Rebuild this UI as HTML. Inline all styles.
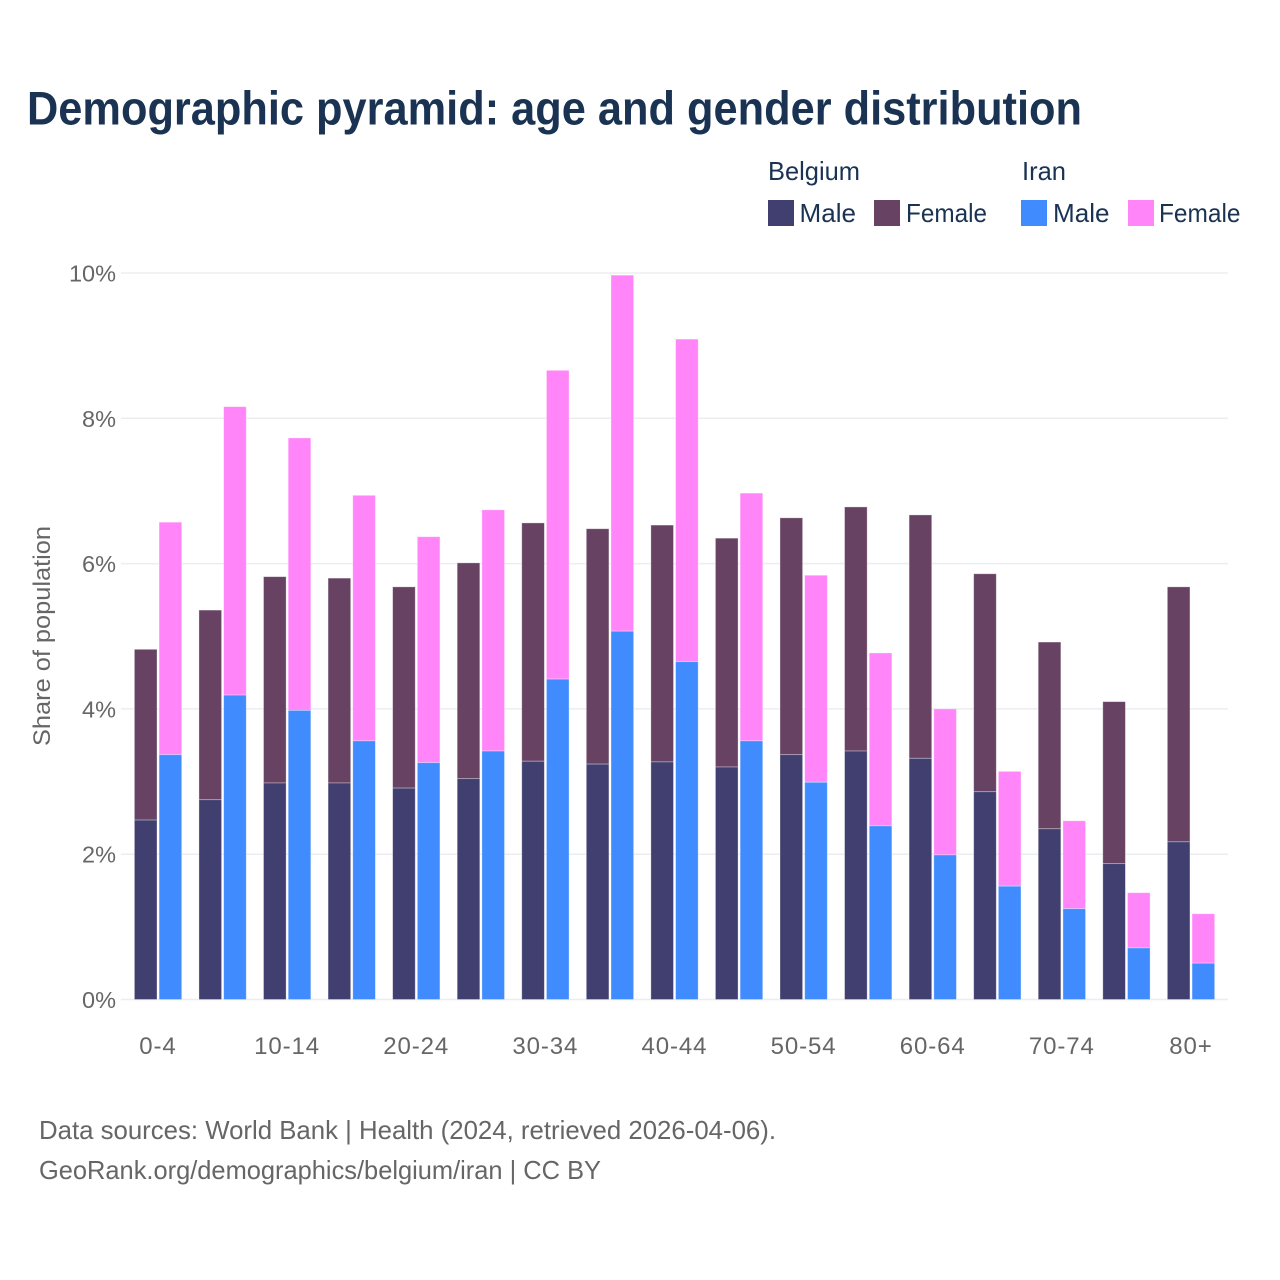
<!DOCTYPE html>
<html lang="en">
<head>
<meta charset="utf-8">
<title>Demographic pyramid: age and gender distribution</title>
<style>
html,body{margin:0;padding:0;background:#fff;width:1280px;height:1280px;overflow:hidden}
svg{display:block}
text{font-family:"Liberation Sans",Arial,sans-serif}
</style>
</head>
<body>
<svg id="chart" xmlns="http://www.w3.org/2000/svg" width="1280" height="1280" viewBox="0 0 1280 1280">
  <rect x="0" y="0" width="1280" height="1280" fill="#ffffff"/>
  <text x="27" y="124.5" font-size="47" font-weight="700" fill="#1a3353" textLength="1055" lengthAdjust="spacingAndGlyphs">Demographic pyramid: age and gender distribution</text>

  <g font-size="26" fill="#1a3353">
    <text x="768" y="180" textLength="92" lengthAdjust="spacingAndGlyphs">Belgium</text>
    <text x="1022" y="180" textLength="44" lengthAdjust="spacingAndGlyphs">Iran</text>
    <rect x="768" y="200" width="26" height="26" fill="#413f70"/>
    <text x="799.5" y="222" textLength="56.5" lengthAdjust="spacingAndGlyphs">Male</text>
    <rect x="874" y="200" width="26" height="26" fill="#674263"/>
    <text x="906" y="222" textLength="81" lengthAdjust="spacingAndGlyphs">Female</text>
    <rect x="1021" y="200" width="26" height="26" fill="#408cff"/>
    <text x="1053" y="222" textLength="56.5" lengthAdjust="spacingAndGlyphs">Male</text>
    <rect x="1128" y="200" width="26" height="26" fill="#ff85f9"/>
    <text x="1159" y="222" textLength="81.5" lengthAdjust="spacingAndGlyphs">Female</text>
  </g>

  <g id="grid"></g>
  <g id="yticks"></g>
  <g id="bars"></g>
  <g id="xticks"></g>

  <text transform="translate(50,746) rotate(-90)" font-size="24" fill="#666666" textLength="220" lengthAdjust="spacingAndGlyphs">Share of population</text>

  <text x="39" y="1139" font-size="26" fill="#666666" textLength="737" lengthAdjust="spacingAndGlyphs">Data sources: World Bank | Health (2024, retrieved 2026-04-06).</text>
  <text x="39" y="1179" font-size="26" fill="#666666" textLength="562" lengthAdjust="spacingAndGlyphs">GeoRank.org/demographics/belgium/iran | CC BY</text>
</svg>
<script>
const ageGroups = ["0-4","5-9","10-14","15-19","20-24","25-29","30-34","35-39","40-44","45-49","50-54","55-59","60-64","65-69","70-74","75-79","80+"];
const belgiumMale = [2.47,2.75,2.98,2.98,2.91,3.04,3.28,3.24,3.27,3.20,3.37,3.42,3.32,2.86,2.35,1.87,2.17];
const belgiumFemale = [2.35,2.61,2.84,2.82,2.77,2.97,3.28,3.24,3.26,3.15,3.26,3.36,3.35,3.00,2.57,2.23,3.51];
const iranMale = [3.37,4.19,3.98,3.56,3.26,3.42,4.41,5.07,4.65,3.56,2.99,2.39,1.99,1.56,1.25,0.71,0.50];
const iranFemale = [3.20,3.97,3.75,3.38,3.11,3.32,4.25,4.90,4.44,3.41,2.85,2.38,2.01,1.58,1.21,0.76,0.68];
const yTickValues = [0,2,4,6,8,10];
const xTickLabels = ["0-4","10-14","20-24","30-34","40-44","50-54","60-64","70-74","80+"];

const NS = "http://www.w3.org/2000/svg";
const plotLeft = 121, plotRight = 1228, plotBottom = 999.5, plotTop = 273;
const yScale = v => plotBottom - (v / 10) * (plotBottom - plotTop);
const xCenter = i => 158 + i * 64.56;
const barWidth = 22.6;

const grid = document.getElementById("grid");
const yticks = document.getElementById("yticks");
yTickValues.forEach(v => {
  const line = document.createElementNS(NS, "line");
  
  
  line.setAttribute("x1", plotLeft);
  line.setAttribute("x2", plotRight);
  line.setAttribute("y1", yScale(v));
  line.setAttribute("y2", yScale(v));
  line.setAttribute("stroke", "#ecedf1");
  line.setAttribute("stroke-width", "1.5");
  grid.appendChild(line);

  const t = document.createElementNS(NS, "text");
  
  
  t.setAttribute("x", 116);
  t.setAttribute("y", yScale(v) + 8.5);
  t.setAttribute("text-anchor", "end");
  t.setAttribute("font-size", "23.5");
  t.setAttribute("fill", "#666666");
  t.textContent = v + "%";
  yticks.appendChild(t);
});

const bars = document.getElementById("bars");
function addBar(x, v0, v1, color, name) {
  const r = document.createElementNS(NS, "rect");
  
  
  r.setAttribute("x", x);
  r.setAttribute("y", yScale(v1));
  r.setAttribute("width", barWidth);
  r.setAttribute("height", yScale(v0) - yScale(v1));
  r.setAttribute("fill", color);
  r.setAttribute("stroke", "#ffffff");
  r.setAttribute("stroke-opacity", "0.4");
  r.setAttribute("stroke-width", "0.8");
  bars.appendChild(r);
}
ageGroups.forEach((g, i) => {
  const c = xCenter(i);
  const bx = c - 23.6, ix = c + 1.1;
  addBar(bx, belgiumMale[i], belgiumMale[i] + belgiumFemale[i], "#674263", "bar-belgium-female");
  addBar(bx, 0, belgiumMale[i], "#413f70", "bar-belgium-male");
  addBar(ix, iranMale[i], iranMale[i] + iranFemale[i], "#ff85f9", "bar-iran-female");
  addBar(ix, 0, iranMale[i], "#408cff", "bar-iran-male");
});

const xticks = document.getElementById("xticks");
xTickLabels.forEach(label => {
  const t = document.createElementNS(NS, "text");
  
  
  t.setAttribute("x", xCenter(ageGroups.indexOf(label)));
  t.setAttribute("y", 1054);
  t.setAttribute("text-anchor", "middle");
  t.setAttribute("font-size", "24");
  t.setAttribute("letter-spacing", "0.9");
  t.setAttribute("fill", "#666666");
  t.textContent = label;
  xticks.appendChild(t);
});
</script>
</body>
</html>
